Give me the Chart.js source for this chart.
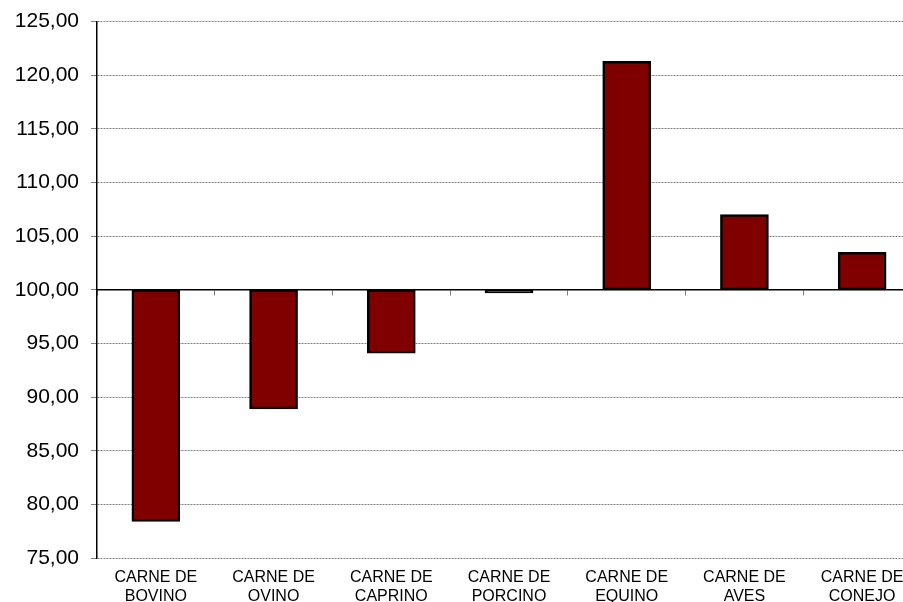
<!DOCTYPE html>
<html>
<head>
<meta charset="utf-8">
<script src="https://cdn.jsdelivr.net/npm/chart.js@4/dist/chart.umd.min.js"></script>
<style>
  html, body { margin: 0; padding: 0; background: #fff; overflow: hidden; }
  #wrap { width: 940px; height: 618px; position: relative; margin-top: -3px; }
</style>
</head>
<body>
<div id="wrap"><canvas id="c"></canvas></div>
<script>
const categories = [
  ['CARNE DE', 'BOVINO'],
  ['CARNE DE', 'OVINO'],
  ['CARNE DE', 'CAPRINO'],
  ['CARNE DE', 'PORCINO'],
  ['CARNE DE', 'EQUINO'],
  ['CARNE DE', 'AVES'],
  ['CARNE DE', 'CONEJO']
];
const baseValue = 100;
const indexValues = [78.4, 88.9, 94.1, 99.7, 121.3, 107.0, 103.5];
const yMin = 75, yMax = 125, yStep = 5;

const floating = indexValues.map(v => [baseValue, v]);

new Chart(document.getElementById('c'), {
  type: 'bar',
  data: {
    labels: categories,
    datasets: [{
      data: floating,
      backgroundColor: '#800000',
      borderColor: '#000000',
      borderWidth: 2.5,
      borderSkipped: false,
      barThickness: 48,
      xAxisID: 'x',
      yAxisID: 'y'
    }]
  },
  options: {
    responsive: true,
    maintainAspectRatio: false,
    animation: false,
    layout: { padding: { top: 18, right: 19, left: 0, bottom: 0 } },
    plugins: { legend: { display: false }, tooltip: { enabled: false } },
    scales: {
      y: {
        position: 'left',
        min: yMin, max: yMax,
        afterFit: s => { s.width = 97; },
        ticks: {
          stepSize: yStep,
          color: '#000',
          padding: 12,
          font: { family: '"Liberation Sans", Arial, sans-serif', size: 21 },
          callback: v => Number(v).toFixed(2).replace('.', ',')
        },
        grid: { color: '#808080', lineWidth: 1, tickLength: 6, tickColor: '#808080' },
        border: { display: true, color: '#000', width: 1.5, dash: [2, 1] }
      },
      x: {
        type: 'category',
        position: { y: baseValue },
        offset: true,
        ticks: { display: false },
        grid: { offset: true, drawOnChartArea: false, drawTicks: true, tickLength: 5, color: '#808080', tickColor: '#808080' },
        border: { display: true, color: '#000', width: 1.5 }
      },
      x2: {
        type: 'category',
        position: 'bottom',
        offset: true,
        afterFit: s => { s.height = 57; },
        ticks: {
          color: '#000',
          padding: 10,
          maxRotation: 0,
          autoSkip: false,
          font: { family: '"Liberation Sans", Arial, sans-serif', size: 16 }
        },
        grid: { display: false, drawTicks: false },
        border: { display: false }
      }
    }
  }
});
</script>
</body>
</html>
